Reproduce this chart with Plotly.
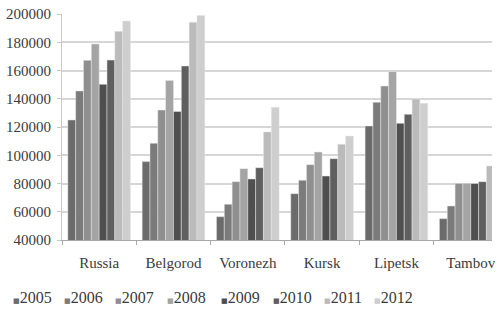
import plotly.graph_objects as go

regions = ["Russia", "Belgorod", "Voronezh", "Kursk", "Lipetsk", "Tambov"]
years = ["2005", "2006", "2007", "2008", "2009", "2010", "2011", "2012"]
v2005 = [125000, 95500, 56500, 72800, 120700, 55100]
v2006 = [145500, 108500, 65300, 82300, 137500, 64100]
v2007 = [167200, 132000, 81300, 93300, 149000, 80100]
v2008 = [178800, 153000, 90500, 102300, 159200, 80100]
v2009 = [150200, 131000, 83200, 85300, 122600, 80000]
v2010 = [167400, 163200, 91200, 97600, 129000, 81300]
v2011 = [187700, 194100, 116500, 107800, 139800, 92400]
v2012 = [195000, 199000, 134000, 113600, 136800, 96000]
series = [v2005, v2006, v2007, v2008, v2009, v2010, v2011, v2012]
colors = ["#6b6b6b", "#7b7b7b", "#8f8f8f", "#a4a4a4", "#4f4f4f", "#5f5f5f", "#bbbbbb", "#cecece"]
y_ticks = [40000, 60000, 80000, 100000, 120000, 140000, 160000, 180000, 200000]

W, H = 502, 322
L, R, T, B = 61.5, 10, 14, 82
pw = W - L - R

fig = go.Figure()
for yr, vals, c in zip(years, series, colors):
    fig.add_trace(go.Bar(x=regions, y=vals, name=yr, marker=dict(color=c, line=dict(color="#e6e6e6", width=0.5)),
                         showlegend=False, hoverinfo="skip"))

font = "Liberation Serif, Times New Roman, serif"
# legend via annotations
leg_px = [10, 61.5, 113, 164.5, 219, 270.5, 322, 371.5]
for yr, c, px in zip(years, colors, leg_px):
    fig.add_annotation(x=(px - L) / pw, y=(240 - 297.7) / 226, xref="paper", yref="paper",
                       xanchor="left", yanchor="middle", showarrow=False,
                       text=f"<span style='font-family:DejaVu Sans;font-size:7px;color:{c}'>■</span>{yr}",
                       font=dict(family=font, size=16, color="#3a3a3a"))

fig.update_layout(
    width=W, height=H, margin=dict(l=L, r=R, t=T, b=B, autoexpand=False),
    paper_bgcolor="white", plot_bgcolor="white",
    barmode="group", bargap=0.157, bargroupgap=0,
    font=dict(family=font, size=15, color="#3a3a3a"),
    xaxis=dict(range=[-0.5, 5.286], showgrid=False, showline=True, linecolor="#a8a8a8", linewidth=1,
               ticks="outside", tickson="boundaries", ticklen=4, tickcolor="#a8a8a8", automargin=False,
               ticklabelstandoff=9,
               tickfont=dict(family=font, size=15, color="#3a3a3a")),
    yaxis=dict(range=[40000, 200000], tickvals=y_ticks, ticktext=[str(t) for t in y_ticks],
               showgrid=True, gridcolor="#d6d6d6", gridwidth=1.5, showline=True, linecolor="#c8c8c8",
               ticks="outside", ticklen=4, tickcolor="#c8c8c8", zeroline=False, automargin=False,
               ticklabelstandoff=3,
               tickfont=dict(family=font, size=15, color="#3a3a3a")),
)
fig.write_html("out.html", config={"displayModeBar": False},
               post_script="document.body.style.margin='0';document.body.style.overflow='hidden';")
